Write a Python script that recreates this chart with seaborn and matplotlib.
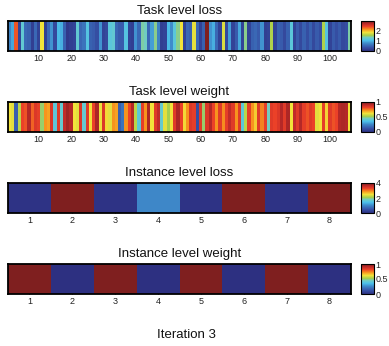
import numpy as np
import matplotlib
matplotlib.use('Agg')
import matplotlib.pyplot as plt
from matplotlib.colors import LinearSegmentedColormap
import seaborn as sns

# values (one value per cell)
task_loss = [0.7, 0.9, 2.3, 0.2, 1.2, 0.5, 0.45, 0.15, 0.5, 0.2,
             1.8, 0.15, 0.5, 0.8, 0.25, 1.0, 0.95, 0.45, 0.1, 0.15,
             0.2, 1.2, 0.5, 0.6, 1.1, 0.45, 0.4, 0.3, 0.8, 0.2,
             0.25, 1.15, 1.2, 0.5, 0.4, 0.4, 1.1, 0.2, 0.15, 0.8,
             0.5, 1.35, 1.3, 0.5, 0.85, 1.4, 0.7, 0.15, 0.2, 1.0,
             0.75, 1.15, 1.4, 1.8, 0.2, 0.5, 0.45, 1.75, 0.5, 0.2,
             0.45, 2.9, 0.8, 0.95, 0.5, 0.2, 1.7, 0.25, 0.85, 0.2,
             0.4, 0.9, 0.2, 1.4, 0.2, 0.45, 0.5, 0.4, 0.8, 0.15,
             0.2, 1.55, 0.2, 0.45, 0.4, 0.25, 0.45, 1.15, 0.2, 0.4,
             0.25, 0.45, 0.3, 0.45, 0.25, 0.4, 0.3, 1.55, 1.1, 0.2,
             0.4, 0.3, 0.4, 0.25, 0.3, 1.35]
task_weight = [0.62, 0.6, 0.15, 0.55, 0.82, 0.8, 0.92, 0.78, 0.85, 0.83,
               0.5, 0.72, 0.7, 0.85, 0.4, 0.84, 0.42, 0.9, 0.95, 0.92,
               0.62, 0.6, 0.85, 0.42, 0.84, 0.62, 0.82, 0.93, 0.61, 0.85,
               0.63, 0.6, 0.72, 0.7, 0.15, 0.2, 0.72, 0.82, 0.92, 0.55,
               0.4, 0.83, 0.72, 0.93, 0.62, 0.84, 0.9, 0.42, 0.6, 0.52,
               0.62, 0.84, 0.93, 0.82, 0.63, 0.72, 0.85, 0.83, 0.1, 0.84,
               0.5, 0.85, 0.92, 0.82, 0.72, 0.84, 0.73, 0.83, 0.9, 0.84,
               0.72, 0.84, 0.4, 0.55, 0.83, 0.72, 0.65, 0.84, 0.74, 0.83,
               0.45, 0.84, 0.82, 0.85, 0.92, 0.84, 0.93, 0.62, 0.9, 0.84,
               0.92, 0.83, 0.8, 0.84, 0.82, 0.6, 0.62, 0.83, 0.64, 0.84,
               0.8, 0.82, 0.92, 0.93, 0.92, 0.62]
inst_loss = [0.05, 4.0, 0.05, 1.0, 0.05, 4.0, 0.05, 4.0]
inst_weight = [1, 0, 1, 0, 1, 0, 1, 0]

task_ticks = [10, 20, 30, 40, 50, 60, 70, 80, 90, 100]
inst_ticks = [1, 2, 3, 4, 5, 6, 7, 8]

sns.set_style('white')
plt.rcParams['font.family'] = ['Liberation Sans', 'DejaVu Sans']

# washed-out jet, as in the reference
cmap = LinearSegmentedColormap.from_list('jetish', [
    (0.0, '#2d3081'), (0.11, '#3650a5'), (0.25, '#3e86c8'),
    (0.36, '#4cc2eb'), (0.45, '#72ccc0'), (0.52, '#a5cf4f'),
    (0.62, '#f2e33a'), (0.72, '#f7941e'), (0.82, '#eb4128'),
    (0.9, '#c22b29'), (1.0, '#7f1f1f')])

panels = [
    ('Task level loss', task_loss, 2.9, task_ticks, [0, 1, 2], ['0', '1', '2']),
    ('Task level weight', task_weight, 1, task_ticks, [0, 0.5, 1], ['0', '0.5', '1']),
    ('Instance level loss', inst_loss, 4, inst_ticks, [0, 2, 4], ['0', '2', '4']),
    ('Instance level weight', inst_weight, 1, inst_ticks, [0, 0.5, 1], ['0', '0.5', '1']),
]
tops = [21, 102, 183, 264]

W, H = 389, 346
fig = plt.figure(figsize=(W / 100, H / 100), dpi=100)

for top, (title, vals, vmax, ticks, cticks, clabels) in zip(tops, panels):
    bottom = 1 - (top + 30) / H
    ax = fig.add_axes([8 / W, bottom, 343 / W, 30 / H])
    cax = fig.add_axes([361 / W, bottom, 13 / W, 30 / H])
    sns.heatmap(np.array([vals]), ax=ax, cbar_ax=cax, cmap=cmap, vmin=0, vmax=vmax,
                xticklabels=False, yticklabels=False)
    ax.set_xticks([t - 0.5 for t in ticks])
    ax.set_xticklabels([str(t) for t in ticks])
    ax.set_yticks([])
    ax.tick_params(axis='x', top=True, bottom=True, direction='in', length=2.5,
                   width=0.8, color='black', labelsize=6.5, pad=2.5, labelcolor='#222222')
    for s in ax.spines.values():
        s.set_visible(True)
        s.set_color('black')
        s.set_linewidth(1.3)
    ax.set_title(title, fontsize=9.5, pad=5, color='#111111')

    cbar = ax.collections[0].colorbar
    cbar.set_ticks(cticks)
    cbar.set_ticklabels(clabels)
    cbar.ax.tick_params(labelsize=6.5, direction='in', length=2, width=0.6, pad=1)
    cbar.outline.set_edgecolor('black')
    cbar.outline.set_linewidth(0.8)

fig.text(186 / W, 1 - 338 / H, 'Iteration 3', ha='center', va='baseline',
         fontsize=9.5, color='#111111')

plt.savefig('out.png', dpi=100)
